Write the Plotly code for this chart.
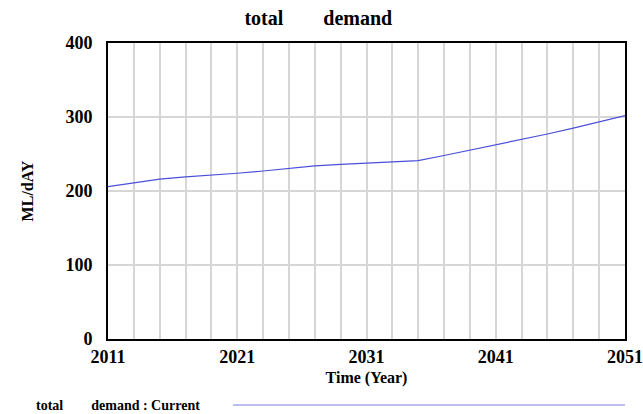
import plotly.graph_objects as go

years = [2011, 2013, 2015, 2017, 2019, 2021, 2023, 2025, 2027, 2029, 2031,
         2033, 2035, 2037, 2039, 2041, 2043, 2045, 2047, 2049, 2051]
demand = [206, 211, 216, 219, 221, 224, 227, 231, 234, 236, 238,
          239, 241, 248, 255, 262, 270, 277, 285, 293, 302]
x_ticks = [2011, 2021, 2031, 2041, 2051]
y_ticks = [0, 100, 200, 300, 400]

FONT = "Liberation Serif"
LINE_COLOR = "#4b4fd8"

fig = go.Figure()
fig.add_trace(go.Scatter(x=years, y=demand, mode="lines",
                         line=dict(color=LINE_COLOR, width=1.2),
                         name="total demand : Current", showlegend=False))

fig.update_layout(
    width=643, height=414,
    margin=dict(l=108, r=18, t=43, b=75, autoexpand=False),
    paper_bgcolor="white", plot_bgcolor="white",
    font=dict(family=FONT, color="black", size=14),
    title=dict(text="<b>total        demand</b>", x=0.495, xref="container",
               y=0.957, yref="container", xanchor="center", yanchor="middle",
               font=dict(family=FONT, size=20, color="black")),
    xaxis=dict(range=[2011, 2051], tickvals=x_ticks,
               ticktext=[f"<b>{v}</b>" for v in x_ticks],
               showgrid=True, gridcolor="#d6d6d6", gridwidth=1.5,
               minor=dict(dtick=2, tick0=2011, showgrid=True, gridcolor="#d6d6d6", gridwidth=1.5),
               showline=True, linecolor="black", linewidth=2, mirror=True,
               ticks="", zeroline=False, automargin=False,
               tickfont=dict(family=FONT, size=18, color="black"),
               title=dict(text="<b>Time (Year)</b>", standoff=6,
                          font=dict(family=FONT, size=16, color="black"))),
    yaxis=dict(range=[0, 400], tickvals=y_ticks,
               ticktext=[f"<b>{v}</b>" for v in y_ticks],
               showgrid=True, gridcolor="#d6d6d6", gridwidth=1.5,
               showline=True, linecolor="black", linewidth=2, mirror=True,
               ticks="", zeroline=False, ticklabelstandoff=10, automargin=False,
               tickfont=dict(family=FONT, size=18, color="black"),
               title=dict(text="<b>ML/dAY</b>", standoff=28,
                          font=dict(family=FONT, size=16, color="black"))),
)

# legend row at bottom
fig.add_annotation(text="<b>total        demand : Current</b>", xref="paper", yref="paper",
                   x=-0.143, y=-0.223, xanchor="left", yanchor="middle",
                   showarrow=False, font=dict(family=FONT, size=14, color="black"))
fig.add_shape(type="line", xref="paper", yref="paper", x0=0.242, x1=1.0,
              y0=-0.223, y1=-0.223, line=dict(color="#7a7ee6", width=1.2))

fig.write_html("out.html", config={"displayModeBar": False},
               post_script="document.body.style.margin='0';document.body.style.overflow='hidden';")
